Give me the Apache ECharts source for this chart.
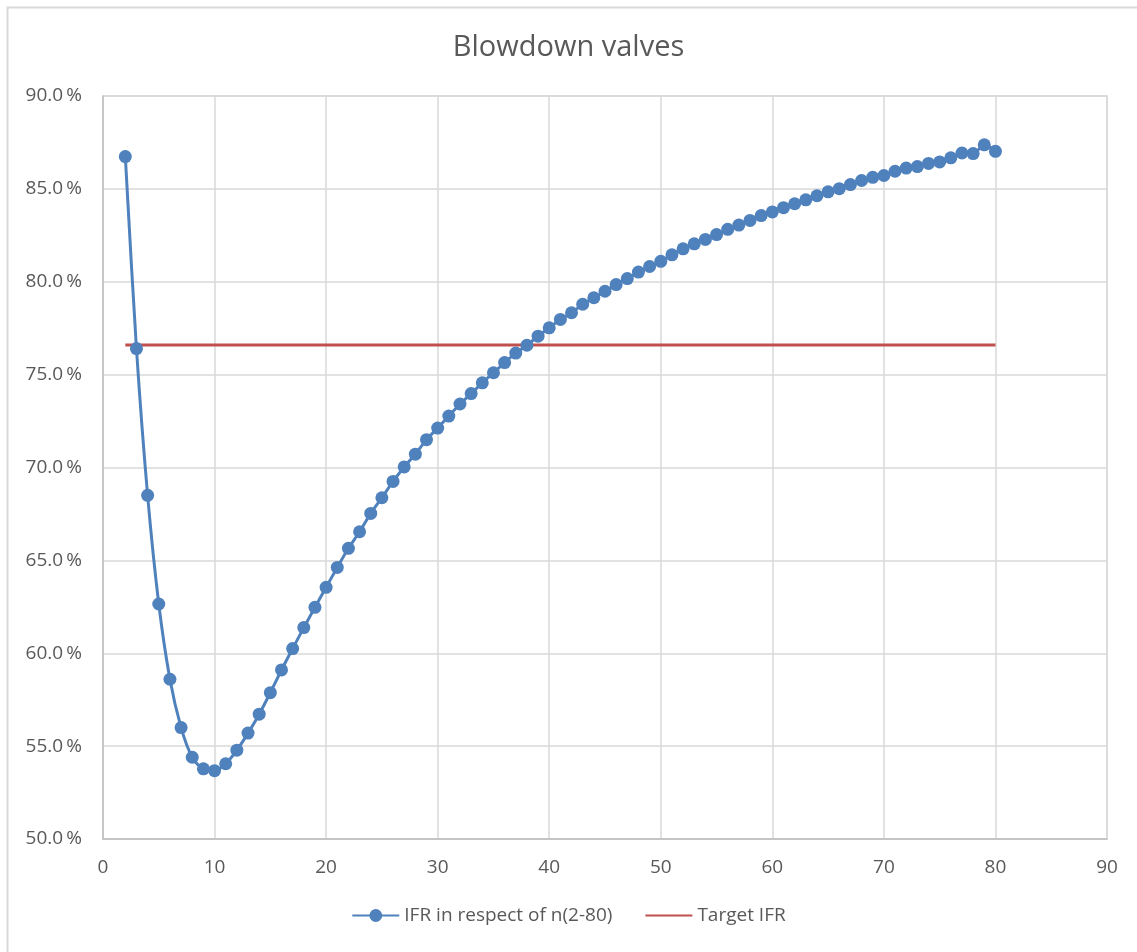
<!DOCTYPE html>
<html>
<head>
<meta charset="utf-8">
<script src="https://cdn.jsdelivr.net/npm/echarts@6/dist/echarts.min.js"></script>
<style>
html,body{margin:0;padding:0;background:#fff;}
#chart{width:1137px;height:952px;}
</style>
</head>
<body>
<div id="chart"></div>
<script>
const titleText = 'Blowdown valves';
const seriesNames = ['IFR in respect of n(2-80)', 'Target IFR'];
const nValues = [2,3,4,5,6,7,8,9,10,11,12,13,14,15,16,17,18,19,20,21,22,23,24,25,26,27,28,29,30,31,32,33,34,35,36,37,38,39,40,41,42,43,44,45,46,47,48,49,50,51,52,53,54,55,56,57,58,59,60,61,62,63,64,65,66,67,68,69,70,71,72,73,74,75,76,77,78,79,80];
const ifrValues = [86.74,76.4,68.5,62.65,58.6,56.0,54.4,53.78,53.68,54.05,54.78,55.7,56.72,57.88,59.1,60.25,61.38,62.47,63.55,64.62,65.65,66.54,67.53,68.37,69.25,70.03,70.72,71.5,72.12,72.77,73.42,73.98,74.56,75.1,75.65,76.16,76.58,77.07,77.52,77.97,78.33,78.79,79.14,79.49,79.85,80.17,80.52,80.82,81.1,81.45,81.77,82.04,82.28,82.54,82.82,83.05,83.3,83.56,83.76,83.99,84.2,84.41,84.63,84.84,85.01,85.23,85.45,85.62,85.72,85.95,86.12,86.2,86.37,86.45,86.67,86.93,86.9,87.37,87.02];
const targetIFR = 76.6;
const targetRange = [2, 80];
const yTicks = { min: 50, max: 90, step: 5 };
const xTicks = { min: 0, max: 90, step: 10 };

const ifrData = nValues.map((n, i) => [n, ifrValues[i]]);
const targetData = targetRange.map(n => [n, targetIFR]);

const chart = echarts.init(document.getElementById('chart'), null, {renderer: 'canvas'});
const txt = '#595959';
const font = '"Open Sans", "Noto Sans", sans-serif';
chart.setOption({
  animation: false,
  backgroundColor: '#fff',
  textStyle: { fontFamily: font },
  graphic: [{
    type: 'rect', left: 5, top: 5, silent: true,
    shape: { x: 0, y: 0, width: 1150, height: 960 },
    style: { fill: 'none', stroke: '#d9d9d9', lineWidth: 2 }
  }],
  title: {
    text: titleText, left: 'center', top: 28,
    textStyle: { color: txt, fontSize: 29, fontWeight: 'normal', fontFamily: font }
  },
  legend: {
    bottom: 22, left: 'center', itemWidth: 47, itemHeight: 16, itemGap: 32,
    textStyle: { color: txt, fontSize: 19, fontFamily: font },
    data: [seriesNames[0], { name: seriesNames[1], itemStyle: { opacity: 0 } }]
  },
  grid: { left: 103, right: 30, top: 96, bottom: 113, show: true, borderColor: '#d9d9d9', borderWidth: 1.5 },
  xAxis: {
    type: 'value', min: xTicks.min, max: xTicks.max, interval: xTicks.step,
    axisLine: { show: true, lineStyle: { color: '#bfbfbf', width: 1.5 } },
    axisTick: { show: false },
    splitLine: { show: true, lineStyle: { color: '#d9d9d9', width: 1.5 } },
    axisLabel: { color: txt, fontSize: 19, margin: 19, fontFamily: font }
  },
  yAxis: {
    type: 'value', min: yTicks.min, max: yTicks.max, interval: yTicks.step,
    axisLine: { show: true, lineStyle: { color: '#bfbfbf', width: 1.5 } },
    axisTick: { show: false },
    splitLine: { show: true, lineStyle: { color: '#d9d9d9', width: 1.5 } },
    axisLabel: { color: txt, fontSize: 19, margin: 21, fontFamily: font,
      formatter: v => v.toFixed(1) + '\u2009%' }
  },
  series: [{
    name: seriesNames[0], type: 'line', data: ifrData, smooth: 0.3,
    symbol: 'circle', symbolSize: 13, showSymbol: true,
    itemStyle: { color: '#4f81bd' },
    lineStyle: { color: '#4f81bd', width: 3 }, z: 3
  }, {
    name: seriesNames[1], type: 'line', data: targetData,
    symbol: 'none', showSymbol: false,
    itemStyle: { color: '#c0504d' },
    lineStyle: { color: '#c0504d', width: 3 }, z: 2
  }]
});
</script>
</body>
</html>
